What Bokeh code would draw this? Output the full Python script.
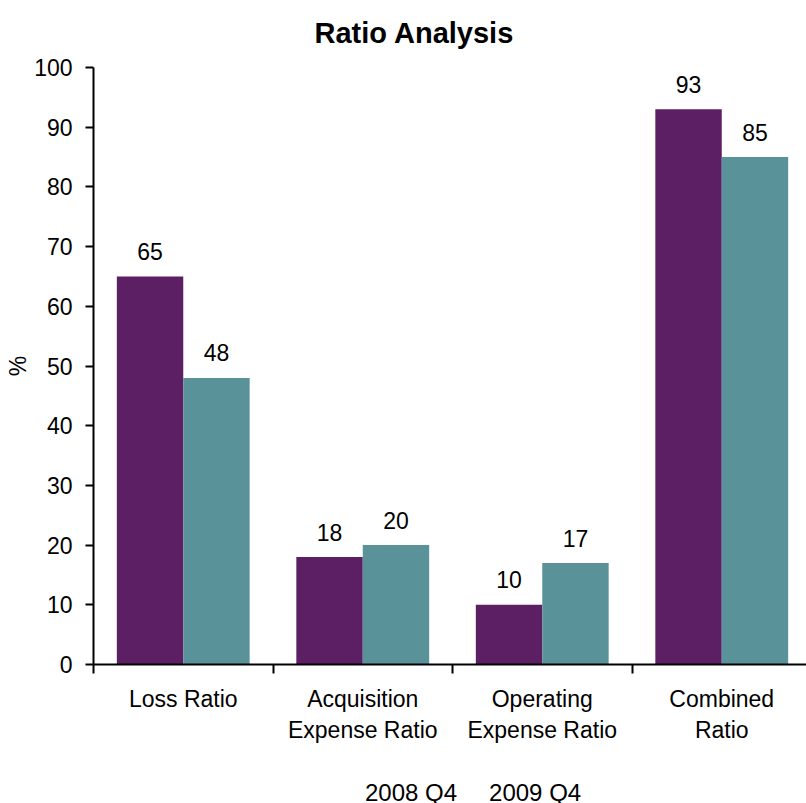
from bokeh.plotting import figure
from bokeh.layouts import column
from bokeh.models import (ColumnDataSource, FixedTicker, Legend, LegendItem,
                          Range1d, Title)
from bokeh.core.properties import value
from bokeh.transform import dodge
from bokeh.embed import file_html
from bokeh.resources import INLINE

# Data
categories = ["Loss Ratio", "Acquisition\nExpense Ratio",
              "Operating\nExpense Ratio", "Combined\nRatio"]
series_names = ["2008 Q4", "2009 Q4"]
values_2008 = [65, 18, 10, 93]
values_2009 = [48, 20, 17, 85]
y_ticks = [0, 10, 20, 30, 40, 50, 60, 70, 80, 90, 100]

# Styles
PURPLE = "#5C1F64"
TEAL = "#5A9299"
FONT = "Liberation Sans"
BAR_W = 0.37
OFFSET = 0.185

xpos = [i + 0.5 for i in range(len(categories))]
source = ColumnDataSource(dict(
    x=xpos,
    v2008=values_2008,
    v2009=values_2009,
    t2008=[str(v) for v in values_2008],
    t2009=[str(v) for v in values_2009],
))

p = figure(width=806, height=770, frame_width=713, frame_height=597,
           output_backend="svg", toolbar_location=None,
           x_range=Range1d(0, 713 / 179.5), y_range=Range1d(0, 100),
           min_border_left=93, min_border_right=0, min_border_top=67,
           min_border_bottom=106)
p.title = None
p.add_layout(Title(text="Ratio Analysis", align="left", offset=221,
                   standoff=33, vertical_align="top",
                   text_font=FONT, text_font_size="29px",
                   text_font_style="bold", text_color="black"), "above")

p.outline_line_color = None
p.xgrid.grid_line_color = None
p.ygrid.grid_line_color = None
p.background_fill_color = "white"
p.border_fill_color = "white"

r1 = p.vbar(x=dodge("x", -OFFSET), top="v2008", width=BAR_W, source=source,
            fill_color=PURPLE, line_color=None)
r2 = p.vbar(x=dodge("x", OFFSET), top="v2009", width=BAR_W, source=source,
            fill_color=TEAL, line_color=None)

# value labels above the bars
for col, tcol, off in (("v2008", "t2008", -OFFSET), ("v2009", "t2009", OFFSET)):
    p.text(x=dodge("x", off), y=col, text=tcol, source=source,
           text_align="center", text_baseline="middle", y_offset=-25,
           text_font=value(FONT), text_font_size="23px", text_color="black")

# y axis
ya = p.yaxis[0]
ya.ticker = FixedTicker(ticks=y_ticks)
ya.axis_label = "%"
ya.axis_label_text_font = FONT
ya.axis_label_text_font_size = "23px"
ya.axis_label_text_font_style = "normal"
ya.axis_label_text_color = "black"
ya.axis_label_standoff = 0
ya.major_label_text_font = FONT
ya.major_label_text_font_size = "23px"
ya.major_label_text_color = "black"
ya.major_label_standoff = 13
ya.major_tick_out = 8
ya.major_tick_in = 0
ya.minor_tick_out = 0
ya.minor_tick_in = 0
ya.axis_line_width = 2
ya.major_tick_line_width = 2

# x axis: labels at category centres, ticks at category boundaries
xa = p.xaxis[0]
xa.ticker = FixedTicker(ticks=xpos, minor_ticks=list(range(len(categories))))
xa.major_label_overrides = {x: c for x, c in zip(xpos, categories)}
xa.major_label_text_font = FONT
xa.major_label_text_font_size = "23px"
xa.major_label_text_color = "black"
xa.major_label_standoff = 12
xa.major_tick_out = 0
xa.major_tick_in = 0
xa.minor_tick_out = 9
xa.minor_tick_in = 0
xa.minor_tick_line_width = 2
xa.axis_line_width = 2

# legend strip underneath the chart (its frame lines up with the chart's)
lg = figure(width=806, height=33, output_backend="svg", toolbar_location=None,
            x_range=Range1d(0, 1), y_range=Range1d(0, 1),
            x_axis_type=None, y_axis_type=None,
            min_border_left=0, min_border_right=0, min_border_top=0,
            min_border_bottom=0)
lg.outline_line_color = None
lg.xgrid.grid_line_color = None
lg.ygrid.grid_line_color = None
k1 = lg.vbar(x=[], top=[], width=1, fill_color=PURPLE, line_color=None)
k2 = lg.vbar(x=[], top=[], width=1, fill_color=TEAL, line_color=None)
legend = Legend(items=[LegendItem(label=series_names[0], renderers=[k1]),
                       LegendItem(label=series_names[1], renderers=[k2])],
                orientation="horizontal", location=(250, -4),
                glyph_width=14, glyph_height=14, label_standoff=8, spacing=10,
                label_text_font=FONT, label_text_font_size="24px",
                label_text_color="black",
                border_line_color=None, background_fill_alpha=0,
                padding=0, margin=0)
lg.add_layout(legend)

layout = column(p, lg, spacing=0)
open("out.html", "w").write(file_html(layout, INLINE))
